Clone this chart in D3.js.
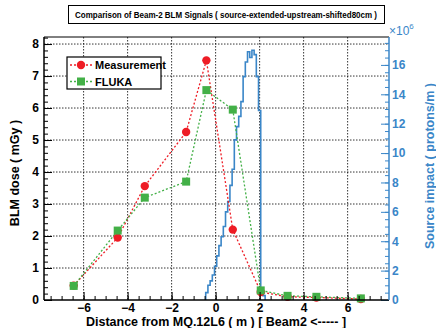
<!DOCTYPE html>
<html>
<head>
<meta charset="utf-8">
<script src="https://cdn.jsdelivr.net/npm/d3@7"></script>
<style>
body { margin: 0; background: #fff; }
svg { display: block; font-family: "Liberation Sans", Arial, sans-serif; font-weight: bold; }
.axis path { display: none; }
.grid line { stroke: #000; stroke-width: 0.8; stroke-dasharray: 1.5,1.5; }
</style>
</head>
<body>
<script>
// BLM positions (m) and doses (mGy)
var distance = [-6.45, -4.45, -3.22, -1.34, -0.42, 0.78, 2.05, 3.27, 4.58, 6.6];
var measurement = [0.45, 1.95, 3.56, 5.25, 7.49, 2.2, 0.25, 0.1, 0.08, 0.03];
var fluka = [0.44, 2.17, 3.2, 3.7, 6.56, 5.95, 0.3, 0.13, 0.1, 0.05];

// source impact histogram: lower bin edges (m) and counts (x10^6 protons/m)
var binLow = [-0.45, -0.35, -0.25, -0.15, -0.05, 0.05, 0.15, 0.25, 0.35, 0.45,
              0.55, 0.65, 0.75, 0.85, 0.95, 1.05, 1.15, 1.25, 1.35, 1.45,
              1.55, 1.65, 1.75, 1.85, 1.95, 2.05, 2.15];
var impact = [0.5, 1.0, 1.3, 1.7, 2.3, 3.0, 3.7, 4.3, 5.0, 6.0,
              6.7, 7.8, 8.9, 10.9, 11.8, 12.5, 13.5, 15.2, 16.2, 16.9,
              16.5, 17.0, 16.7, 15.2, 12.9, 0.6, 0.3];
var binWidth = 0.1;

var xTicks = [-6, -4, -2, 0, 2, 4, 6];
var yTicks = [0, 1, 2, 3, 4, 5, 6, 7, 8];
var y2Ticks = [0, 2, 4, 6, 8, 10, 12, 14, 16];

var title = "Comparison of Beam-2 BLM Signals ( source-extended-upstream-shifted80cm )";

var red = "#ee1c25", green = "#43b047", blue = "#3a86c8";

var margin = {top: 37, right: 47, bottom: 28, left: 44};
var width = 436 - margin.left - margin.right,
    height = 328 - margin.top - margin.bottom;

var svgRoot = d3.select("body")
    .append("svg")
    .attr("width", 436)
    .attr("height", 328);

var svg = svgRoot.append("g")
    .attr("transform", "translate(" + margin.left + "," + margin.top + ")");

var xScale = d3.scaleLinear().domain([-7.8, 7.88]).range([0, width]),
    yScale = d3.scaleLinear().domain([0, 8.22]).range([height, 0]),
    y2Scale = d3.scaleLinear().domain([0, 17.9]).range([height, 0]);

// grid
svg.append("g").attr("class", "grid")
    .selectAll("line").data(xTicks).enter().append("line")
    .attr("x1", function (d) { return xScale(d); })
    .attr("x2", function (d) { return xScale(d); })
    .attr("y1", 0).attr("y2", height);
svg.append("g").attr("class", "grid")
    .selectAll("line").data(yTicks.slice(1)).enter().append("line")
    .attr("x1", 0).attr("x2", width)
    .attr("y1", function (d) { return yScale(d); })
    .attr("y2", function (d) { return yScale(d); });

// histogram
var histPts = [[binLow[0], 0]];
binLow.forEach(function (b, i) { histPts.push([b, impact[i]]); });
histPts.push([binLow[binLow.length - 1] + binWidth, 0]);
svg.append("path")
    .datum(histPts)
    .attr("fill", "none")
    .attr("stroke", blue)
    .attr("stroke-width", 1.6)
    .attr("d", d3.line()
        .x(function (d) { return xScale(d[0]); })
        .y(function (d) { return y2Scale(d[1]); })
        .curve(d3.curveStepAfter));

// graphs
function drawSeries(vals, color) {
    svg.append("path")
        .datum(vals)
        .attr("fill", "none")
        .attr("stroke", color)
        .attr("stroke-width", 1.3)
        .attr("stroke-dasharray", "2,2")
        .attr("d", d3.line()
            .x(function (d, i) { return xScale(distance[i]); })
            .y(function (d) { return yScale(d); }));
}
drawSeries(measurement, red);
drawSeries(fluka, green);

svg.selectAll("circle.meas")
    .data(measurement)
    .enter()
    .append("circle")
        .attr("class", "meas")
        .attr("cx", function (d, i) { return xScale(distance[i]); })
        .attr("cy", function (d) { return yScale(d); })
        .attr("r", 4.2)
        .attr("fill", red);

svg.selectAll("rect.fluka")
    .data(fluka)
    .enter()
    .append("rect")
        .attr("class", "fluka")
        .attr("x", function (d, i) { return xScale(distance[i]) - 4; })
        .attr("y", function (d) { return yScale(d) - 4; })
        .attr("width", 8)
        .attr("height", 8)
        .attr("fill", green);

// axes
var xMinor = d3.range(-7.5, 7.9, 0.5);
var yMinor = d3.range(0, 8.21, 0.2);
var y2Minor = d3.range(0, 17.9, 0.5);

svg.append("g").attr("class", "axis")
    .attr("transform", "translate(0," + height + ")")
    .call(d3.axisBottom(xScale).tickValues(xMinor).tickSizeInner(-4).tickSizeOuter(0).tickFormat(""));
svg.append("g").attr("class", "axis")
    .attr("transform", "translate(0," + height + ")")
    .call(d3.axisBottom(xScale).tickValues(xTicks).tickSizeInner(-8).tickSizeOuter(0).tickPadding(3.5))
    .selectAll("text").attr("font-size", 12).attr("font-family", "Liberation Sans").attr("font-weight", "bold");

svg.append("g").attr("class", "axis")
    .call(d3.axisLeft(yScale).tickValues(yMinor).tickSizeInner(-4).tickSizeOuter(0).tickFormat(""));
svg.append("g").attr("class", "axis")
    .call(d3.axisLeft(yScale).tickValues(yTicks).tickSizeInner(-8).tickSizeOuter(0).tickPadding(5))
    .selectAll("text").attr("font-size", 12).attr("font-family", "Liberation Sans").attr("font-weight", "bold");

var right = svg.append("g").attr("transform", "translate(" + width + ",0)");
right.append("g").attr("class", "axis")
    .call(d3.axisRight(y2Scale).tickValues(y2Minor).tickSizeInner(-4).tickSizeOuter(0).tickFormat(""))
    .selectAll("line").attr("stroke", blue);
var r2 = right.append("g").attr("class", "axis")
    .call(d3.axisRight(y2Scale).tickValues(y2Ticks).tickSizeInner(-8).tickSizeOuter(0).tickPadding(3));
r2.selectAll("line").attr("stroke", blue);
r2.selectAll("text").attr("fill", blue).attr("font-size", 12).attr("font-family", "Liberation Sans").attr("font-weight", "bold");

// frame
svg.append("line").attr("x1", 0).attr("x2", width).attr("y1", 0).attr("y2", 0).attr("stroke", "#000").attr("stroke-width", 1);
svg.append("line").attr("x1", 0).attr("x2", 0).attr("y1", 0).attr("y2", height).attr("stroke", "#000").attr("stroke-width", 1.5);
svg.append("line").attr("x1", 0).attr("x2", width).attr("y1", height).attr("y2", height).attr("stroke", "#000").attr("stroke-width", 1.5);
svg.append("line").attr("x1", width).attr("x2", width).attr("y1", 0).attr("y2", height).attr("stroke", blue).attr("stroke-width", 1.5);

// axis titles
svgRoot.append("text")
    .attr("x", 216).attr("y", 326)
    .attr("text-anchor", "middle")
    .attr("font-size", 12.5)
    .text("Distance from MQ.12L6 ( m ) [ Beam2 <----- ]");
svgRoot.append("text")
    .attr("transform", "translate(19,173) rotate(-90)")
    .attr("text-anchor", "middle")
    .attr("font-size", 12.5)
    .text("BLM dose ( mGy )");
svgRoot.append("text")
    .attr("transform", "translate(434,166) rotate(-90)")
    .attr("text-anchor", "middle")
    .attr("font-size", 12.5)
    .attr("fill", blue)
    .text("Source impact ( protons/m )");
var exp = svgRoot.append("text")
    .attr("x", 389).attr("y", 35)
    .attr("fill", blue)
    .attr("font-size", 12)
    .attr("font-weight", "normal");
exp.append("tspan").text("\u00d710");
exp.append("tspan").attr("dy", -6).attr("font-size", 8).text("6");

// title box
svgRoot.append("rect")
    .attr("x", 68.5).attr("y", 5.5).attr("width", 316).attr("height", 18)
    .attr("fill", "#fff").attr("stroke", "#000").attr("stroke-width", 1);
svgRoot.append("text")
    .attr("x", 75).attr("y", 17.5)
    .attr("font-size", 8.6)
    .attr("textLength", 302)
    .attr("lengthAdjust", "spacingAndGlyphs")
    .text(title);

// legend
var legend = svgRoot.append("g");
legend.append("rect")
    .attr("x", 67).attr("y", 57).attr("width", 94).attr("height", 32)
    .attr("fill", "#fff").attr("stroke", "#000").attr("stroke-width", 1.2);
var entries = [{name: "Measurement", color: red, y: 65}, {name: "FLUKA", color: green, y: 81.5}];
entries.forEach(function (e, i) {
    legend.append("line")
        .attr("x1", 70).attr("x2", 92).attr("y1", e.y).attr("y2", e.y)
        .attr("stroke", e.color).attr("stroke-width", 1.3).attr("stroke-dasharray", "2,2");
    if (i == 0) {
        legend.append("circle").attr("cx", 81).attr("cy", e.y).attr("r", 4.2).attr("fill", e.color);
    } else {
        legend.append("rect").attr("x", 77).attr("y", e.y - 4).attr("width", 8).attr("height", 8).attr("fill", e.color);
    }
    legend.append("text")
        .attr("x", 95).attr("y", e.y + 4)
        .attr("font-size", 11)
        .text(e.name);
});
</script>
</body>
</html>
